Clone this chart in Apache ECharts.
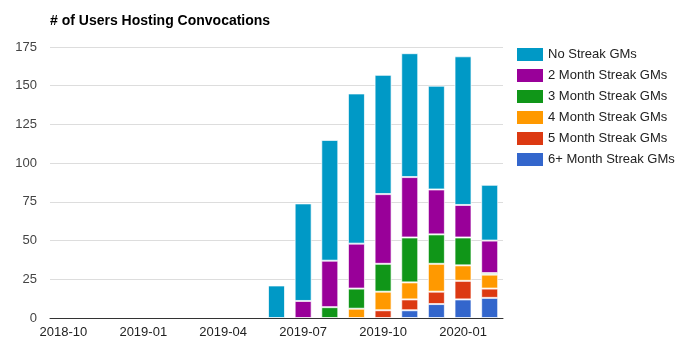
<!DOCTYPE html>
<html>
<head>
<meta charset="utf-8">
<script src="https://cdn.jsdelivr.net/npm/echarts@6/dist/echarts.min.js"></script>
<style>
  html, body { margin: 0; padding: 0; background: #fff; }
  #main { width: 690px; height: 350px; }
</style>
</head>
<body>
<div id="main"></div>
<script>
var months = ['2018-10', '2018-11', '2018-12', '2019-01', '2019-02', '2019-03', '2019-04', '2019-05',
    '2019-06', '2019-07', '2019-08', '2019-09', '2019-10', '2019-11', '2019-12', '2020-01', '2020-02'];

// stacked from the bottom up
var streak6 = [0, 0, 0, 0, 0, 0, 0, 0, 0, 0, 0, 0, 0, 5, 9, 12, 13];
var streak5 = [0, 0, 0, 0, 0, 0, 0, 0, 0, 0, 0, 0, 5, 7, 8, 12, 6];
var streak4 = [0, 0, 0, 0, 0, 0, 0, 0, 0, 0, 0, 6, 12, 11, 18, 10, 9];
var streak3 = [0, 0, 0, 0, 0, 0, 0, 0, 0, 0, 7, 13, 18, 29, 19, 18, 1];
var streak2 = [0, 0, 0, 0, 0, 0, 0, 0, 0, 11, 30, 29, 45, 39, 29, 21, 21];
var noStreak = [0, 0, 0, 0, 0, 0, 0, 0, 21, 63, 78, 97, 77, 80, 67, 96, 36];

var seriesNames = ['No Streak GMs', '2 Month Streak GMs', '3 Month Streak GMs',
    '4 Month Streak GMs', '5 Month Streak GMs', '6+ Month Streak GMs'];
var colors = ['#0099c6', '#990099', '#109618', '#ff9900', '#dc3912', '#3366cc'];

var dom = document.getElementById('main');
var myChart = echarts.init(dom);

function clean(arr) {
    return arr.map(function (v) { return v === 0 ? '-' : v; });
}

// drawing order bottom -> top, legend order top -> bottom
var stackOrder = [
    [5, streak6], [4, streak5], [3, streak4], [2, streak3], [1, streak2], [0, noStreak]
];
var series = stackOrder.map(function (s) {
    return {
        name: seriesNames[s[0]],
        type: 'bar',
        stack: 'total',
        barWidth: 17,
        data: clean(s[1]),
        itemStyle: {
            color: colors[s[0]],
            borderColor: 'rgba(255,255,255,0.7)',
            borderWidth: 1
        }
    };
});

var option = {
    animation: false,
    textStyle: { fontFamily: 'Arial, "Liberation Sans", sans-serif' },
    title: {
        text: '# of Users Hosting Convocations',
        left: 45,
        top: 9,
        textStyle: { fontSize: 14, fontWeight: 'bold', color: '#000' }
    },
    legend: {
        orient: 'vertical',
        left: 512,
        top: 43,
        icon: 'rect',
        itemWidth: 26,
        itemHeight: 13,
        itemGap: 8,
        itemStyle: { borderWidth: 0 },
        data: seriesNames,
        textStyle: { fontSize: 13, color: '#222' }
    },
    grid: { left: 50, right: 187, top: 47, bottom: 32 },
    xAxis: {
        type: 'category',
        data: months,
        axisTick: { show: false },
        axisLine: { lineStyle: { color: '#333' } },
        axisLabel: { interval: 2, color: '#222', fontSize: 13, margin: 8 }
    },
    yAxis: {
        type: 'value',
        min: 0,
        max: 175,
        interval: 25,
        axisLine: { show: false },
        axisTick: { show: false },
        axisLabel: { color: '#444', fontSize: 13, margin: 13 },
        splitLine: { lineStyle: { color: '#ddd' } }
    },
    series: series
};

myChart.setOption(option);
</script>
</body>
</html>
